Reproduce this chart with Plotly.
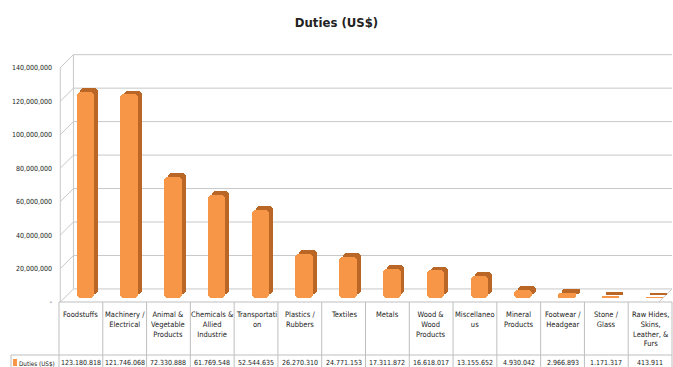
import plotly.graph_objects as go

categories = ["Foodstuffs", "Machinery /<br>Electrical", "Animal &<br>Vegetable<br>Products",
              "Chemicals &<br>Allied<br>Industrie", "Transportati<br>on", "Plastics /<br>Rubbers",
              "Textiles", "Metals", "Wood &<br>Wood<br>Products", "Miscellaneo<br>us",
              "Mineral<br>Products", "Footwear /<br>Headgear", "Stone /<br>Glass",
              "Raw Hides,<br>Skins,<br>Leather, &<br>Furs"]
duties = [123180818, 121746068, 72330888, 61769548, 52544635, 26270310, 24771153,
          17311872, 16618017, 13155652, 4930042, 2966893, 1171317, 413911]
tick_vals = [0, 20e6, 40e6, 60e6, 80e6, 100e6, 120e6, 140e6]
tick_text = ["-", "20,000,000", "40,000,000", "60,000,000", "80,000,000",
             "100,000,000", "120,000,000", "140,000,000"]
series_name = "Duties (US$)"

W, H = 673, 367
L, R, T, B = 59, 1, 51, 65
PH = H - T - B
FONT = "DejaVu Sans Condensed, Liberation Sans Narrow, sans-serif"
ORANGE = "#F79646"
DARK = "#BA6626"
GRID = "#C8C8C8"
n = len(categories)
x = list(range(n))
depth = 7.8e6          # 3D back-wall offset (visual only)
floor_mid = 2.4e6      # bars stand mid-depth on the 3D floor (visual only)

def py(px):
    return (H - B - px) / PH

def pxx(px):
    return (px - L) / (W - L - R)

fig = go.Figure()
# side / depth of bars
fig.add_trace(go.Bar(x=x, y=duties, base=[floor_mid + 2.2e6] * n, width=0.4, offset=-0.01,
                     marker=dict(color=DARK, cornerradius=4, line=dict(width=0)),
                     hoverinfo="skip", showlegend=False))
# front face
fig.add_trace(go.Bar(x=x, y=duties, base=[floor_mid] * n, width=0.4, offset=-0.1, name=series_name,
                     marker=dict(color=ORANGE, cornerradius=4, line=dict(width=0)),
                     showlegend=False))

shapes = []
XF, XB = -0.47, -0.17
# back-wall gridlines and slanted side-wall lines
for v in tick_vals:
    shapes.append(dict(type="line", xref="x", yref="y", x0=XB, x1=13.5, y0=v + depth, y1=v + depth,
                       line=dict(color=GRID, width=1), layer="below"))
    shapes.append(dict(type="line", xref="x", yref="y", x0=XF, x1=XB, y0=v, y1=v + depth,
                       line=dict(color=GRID, width=1), layer="below"))
shapes.append(dict(type="line", xref="x", yref="y", x0=XF, x1=XF, y0=0, y1=140e6,
                   line=dict(color=GRID, width=1), layer="below"))
shapes.append(dict(type="line", xref="x", yref="y", x0=XB, x1=XB, y0=depth, y1=140e6 + depth,
                   line=dict(color=GRID, width=1), layer="below"))
shapes.append(dict(type="line", xref="x", yref="y", x0=13.2, x1=13.5, y0=0, y1=depth,
                   line=dict(color=GRID, width=1), layer="below"))

# data table grid
TC = "#BFBFBF"
shapes.append(dict(type="line", xref="paper", yref="paper", x0=0, x1=1, y0=0, y1=0,
                   line=dict(color=TC, width=1)))
shapes.append(dict(type="line", xref="paper", yref="paper", x0=pxx(11), x1=1, y0=py(355), y1=py(355),
                   line=dict(color=TC, width=1)))
for i in range(n + 1):
    xp = i / n
    shapes.append(dict(type="line", xref="paper", yref="paper", x0=xp, x1=xp, y0=0, y1=py(370),
                       line=dict(color=TC, width=1)))
shapes.append(dict(type="line", xref="paper", yref="paper", x0=pxx(11), x1=pxx(11), y0=py(355), y1=py(370),
                   line=dict(color=TC, width=1)))
# legend key
shapes.append(dict(type="rect", xref="paper", yref="paper", x0=pxx(13), x1=pxx(17), y0=py(366), y1=py(359),
                   fillcolor=ORANGE, line=dict(width=0)))

annotations = []
for i, c in enumerate(categories):
    annotations.append(dict(x=i, y=py(308), xref="x", yref="paper", text=c, showarrow=False,
                            xanchor="center", yanchor="top", align="center",
                            font=dict(family=FONT, size=7.5, color="#222")))
    annotations.append(dict(x=i, y=py(363), xref="x", yref="paper",
                            text=f"{duties[i]:,}".replace(",", "."), showarrow=False,
                            xanchor="center", yanchor="middle",
                            font=dict(family=FONT, size=7, color="#222")))
annotations.append(dict(x=pxx(17.5), y=py(363), xref="paper", yref="paper", text=series_name,
                        showarrow=False, xanchor="left", yanchor="middle",
                        font=dict(family=FONT, size=6.3, color="#222")))

fig.update_layout(
    width=W, height=H, margin=dict(l=L, r=R, t=T, b=B),
    paper_bgcolor="white", plot_bgcolor="white",
    barmode="overlay", bargap=0,
    title=dict(text="<b>Duties (US$)</b>", x=0.5, xanchor="center", y=1 - 22 / H, yanchor="middle",
               font=dict(family=FONT, size=13, color="#222")),
    xaxis=dict(range=[-0.5, n - 0.5], showticklabels=False, showgrid=False, zeroline=False,
               showline=False, ticks=""),
    yaxis=dict(range=[0, 150e6], tickvals=tick_vals, ticktext=tick_text, showgrid=False,
               zeroline=False, showline=False, ticks="", ticklabelstandoff=6,
               tickfont=dict(family=FONT, size=7, color="#222")),
    shapes=shapes, annotations=annotations,
)

fig.write_html("out.html")
